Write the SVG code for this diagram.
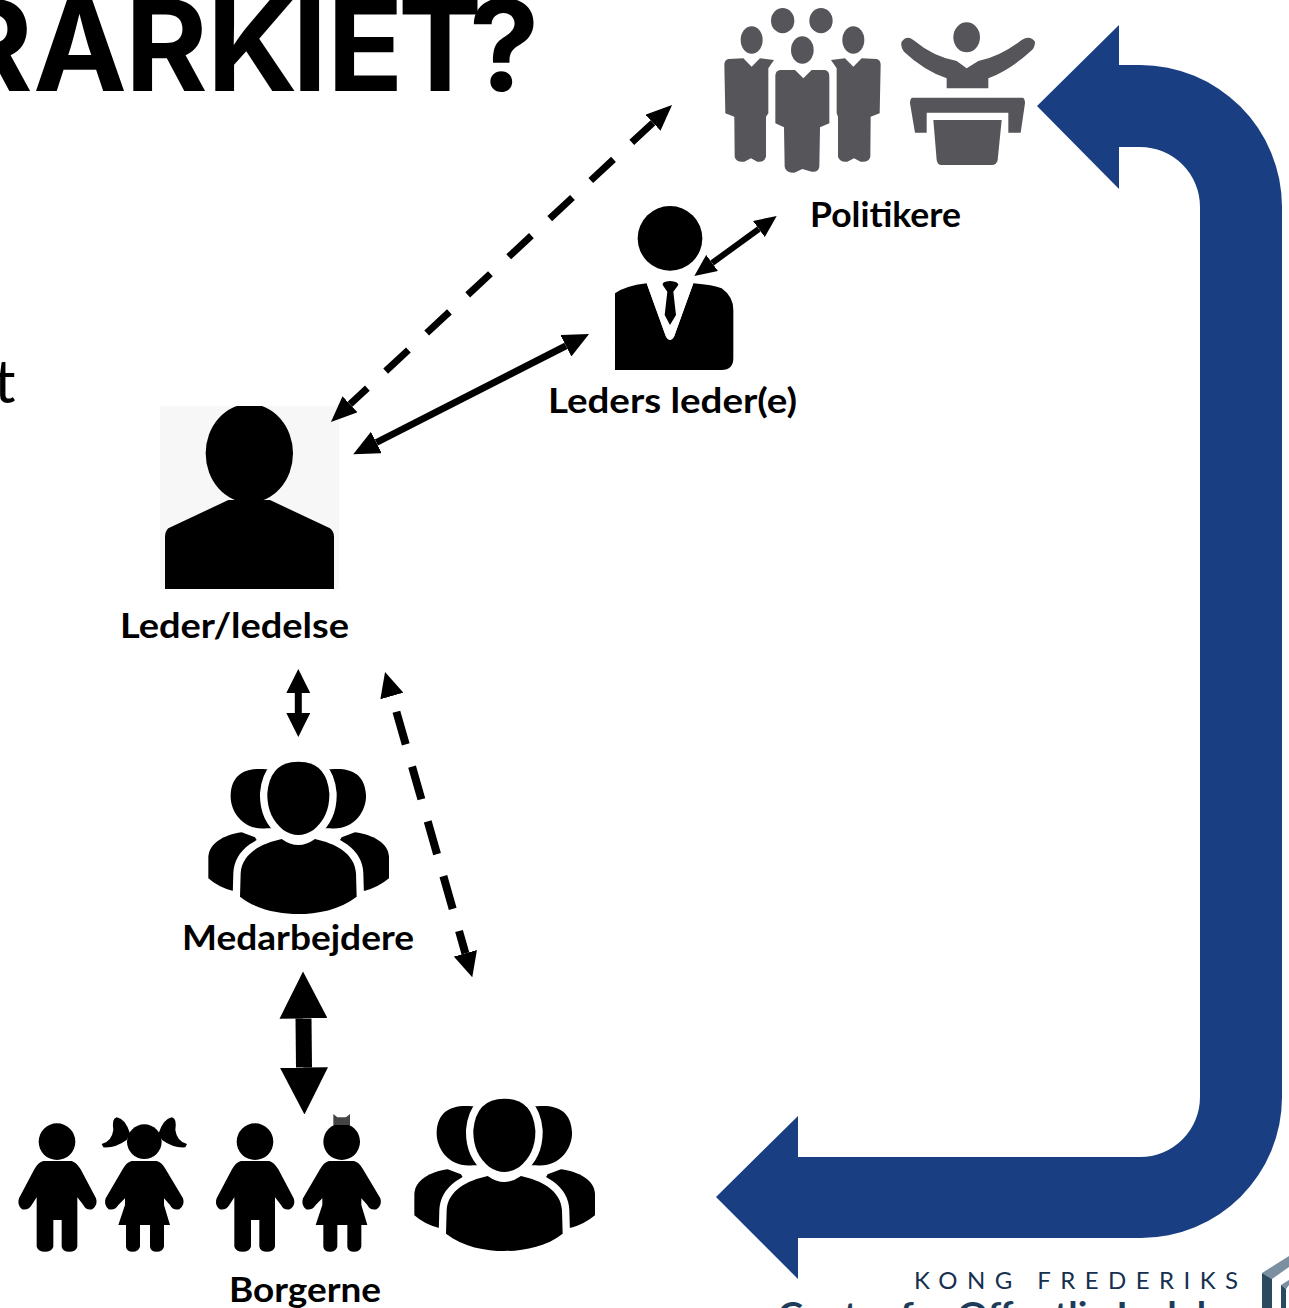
<svg xmlns="http://www.w3.org/2000/svg" xmlns:xlink="http://www.w3.org/1999/xlink" width="1289" height="1308" viewBox="0 0 1289 1308">
<style>
.lbl{font-family:"Lato","Liberation Sans",sans-serif;font-weight:700;font-size:35px;fill:#000}
.ttl{font-family:"Inter","Liberation Sans",sans-serif;font-weight:700;font-size:126px;fill:#000}
.blk{fill:#000}
.gry{fill:#55555a}
.cut{fill:#000;stroke:#fff;stroke-width:44;paint-order:stroke}
.arr{fill:none;stroke:#000}
</style>
<defs>
<marker id="h1" markerUnits="userSpaceOnUse" markerWidth="26" markerHeight="22" refX="0" refY="11" orient="auto-start-reverse"><path d="M0,0L26,11L0,22Z"/></marker>
<marker id="h2" markerUnits="userSpaceOnUse" markerWidth="26" markerHeight="24" refX="0" refY="12" orient="auto-start-reverse"><path d="M0,0L26,12L0,24Z"/></marker>
<marker id="h3" markerUnits="userSpaceOnUse" markerWidth="22" markerHeight="20" refX="0" refY="10" orient="auto-start-reverse"><path d="M0,0L22,10L0,20Z"/></marker>
<marker id="h4" markerUnits="userSpaceOnUse" markerWidth="24" markerHeight="24" refX="0" refY="12" orient="auto-start-reverse"><path d="M0,0L24,12L0,24Z"/></marker>
<marker id="h5" markerUnits="userSpaceOnUse" markerWidth="25" markerHeight="24" refX="0" refY="12" orient="auto-start-reverse"><path d="M0,0L25,12L0,24Z"/></marker>
<marker id="h6" markerUnits="userSpaceOnUse" markerWidth="47" markerHeight="48" refX="0" refY="24" orient="auto-start-reverse"><path d="M0,0L47,24L0,48Z"/></marker>
<g id="crowd">
<path class="blk" d="M228,88C170,82 125,100 122,165C120,215 160,272 230,265L260,265L260,88Z"/>
<path class="blk" d="M422,88C480,82 525,100 528,165C530,215 490,272 420,265L390,265L390,88Z"/>
<path class="blk" d="M55,415L55,350C58,310 100,285 155,277L195,292L200,300L200,452L127,452Q85,442 55,415Z"/>
<path class="blk" d="M597,415L597,350C594,310 552,285 495,277L455,292L450,300L450,452L525,452Q565,442 597,415Z"/>
<path class="cut" d="M150,470L152,400C155,340 215,310 275,297Q325,333 375,297C435,310 495,340 498,400L500,470C450,510 380,522 325,522C270,522 200,510 150,470Z"/>
<path class="cut" d="M325,65Q410,65 418,160Q420,230 370,270Q325,300 280,270Q230,230 232,160Q240,65 325,65Z"/>
</g>
<path id="boy" d="M130,213L215,213Q228,216 242,238L288,325Q295,345 277,358Q258,362 250,345L232,322L232,470Q228,485 208,485Q188,485 185,470L185,390L160,390L160,470Q155,485 135,485Q115,485 110,470L110,322L95,345Q85,362 66,358Q50,345 57,325L103,238Q115,216 130,213Z"/>
<path id="girl" d="M395,213L470,213Q485,216 497,238L549,325Q556,345 538,358Q518,362 510,345L492,325L492,345L510,405L492,405L492,470Q488,485 470,485Q452,485 450,470L450,405L420,405L420,470Q415,485 398,485Q380,485 378,470L378,405L355,405L375,345L375,325L355,345Q345,362 326,358Q310,345 317,325L368,238Q380,216 395,213Z"/>
</defs>

<g id="title"><text class="ttl" y="91" x="-50 33 125 207 292 327 398 469">RARKIET?</text></g>
<g id="body-fragment"><text x="-6" y="403" font-family="Lato,'Liberation Sans',sans-serif" font-weight="400" font-size="60" fill="#000">t</text></g>

<g id="politikere">
<g transform="translate(700,0) scale(.33333)" class="gry">
<ellipse cx="248" cy="62" rx="35" ry="38"/>
<ellipse cx="363" cy="62" rx="35" ry="38"/>
<ellipse cx="155" cy="120" rx="33" ry="41"/>
<ellipse cx="460" cy="120" rx="33" ry="41"/>
<ellipse cx="307" cy="150" rx="34" ry="41"/>
<path d="M85,177L130,175L155,200L180,175L222,180L205,205L205,340L198,350L198,470Q193,488 172,485L153,475L133,485Q108,488 104,470L103,350L76,340L73,195Q73,180 85,177Z"/>
<path d="M530,177L485,175L460,200L435,175L393,180L410,205L410,340L414,350L414,470Q420,488 442,485L462,475L482,485Q507,488 511,470L512,350L539,340L542,195Q542,180 530,177Z"/>
<path d="M240,210L285,210L310,235L335,210L375,210Q388,212 388,230L388,370L360,382L358,500Q355,518 335,515L307,507L283,518Q256,518 254,500L252,382L226,370L226,228Q226,212 240,210Z"/>
<ellipse cx="800" cy="112" rx="40" ry="45"/>
<path d="M605,125Q620,105 640,120Q700,170 770,183L800,205L835,183Q900,170 965,120Q990,105 1005,125Q1005,145 990,155Q930,210 865,235L865,265L740,265L740,235Q670,210 612,155Q600,140 605,125Z"/>
<path d="M637,293L968,293Q975,295 975,310L962,398L925,398L925,338L680,338L680,398L645,398L630,310Q630,295 637,293Z"/>
<path d="M700,360L905,360L893,480Q890,495 875,495L725,495Q712,495 710,480Z"/>
</g>
<text class="lbl" x="810" y="227" textLength="151" lengthAdjust="spacingAndGlyphs">Politikere</text>
</g>

<g id="leders-leder">
<g transform="translate(590,190) scale(.33333)" class="blk">
<circle cx="240" cy="145" r="97"/>
<path d="M75,310Q105,288 170,280L228,440Q240,460 252,440L310,280Q370,285 395,295Q430,320 430,360L430,505Q430,540 395,540L75,540Z"/>
<path fill="#fff" d="M170,280L228,440Q240,460 252,440L310,280Z"/>
<path d="M218,285Q215,275 240,273Q265,275 265,285L250,305L258,375L240,405L224,375L232,305Z"/>
</g>
<text class="lbl" x="548" y="413" textLength="249" lengthAdjust="spacingAndGlyphs">Leders leder(e)</text>
</g>

<g id="leder">
<rect x="160" y="406" width="179" height="183" fill="#f7f7f7"/>
<svg x="160" y="406" width="179" height="183" viewBox="60 48 537 549">
<g class="blk">
<ellipse cx="328" cy="190" rx="131" ry="148"/>
<path d="M265,330L85,415Q75,425 75,440L75,597L582,597L582,440Q582,425 570,415L390,330Z"/>
</g>
</svg>
<text class="lbl" x="120" y="638" textLength="229" lengthAdjust="spacingAndGlyphs">Leder/ledelse</text>
</g>

<g id="medarbejdere">
<use href="#crowd" xlink:href="#crowd" transform="translate(190,740) scale(.33333)"/>
<text class="lbl" x="182" y="950" textLength="232" lengthAdjust="spacingAndGlyphs">Medarbejdere</text>
</g>

<g id="borgerne">
<use href="#crowd" xlink:href="#crowd" transform="translate(396,1077) scale(.33333)"/>
<g transform="translate(0,1090) scale(.33333)" class="blk">
<circle cx="171" cy="155" r="55"/>
<use href="#boy" xlink:href="#boy"/>
<circle cx="433" cy="155" r="52"/>
<path d="M390,130Q375,85 350,82Q335,85 340,120Q335,155 305,162L310,172Q345,175 380,150Z"/>
<path d="M476,130Q491,85 516,82Q531,85 526,120Q531,155 561,162L556,172Q521,175 486,150Z"/>
<use href="#girl" xlink:href="#girl"/>
<circle cx="765" cy="155" r="55"/>
<use href="#boy" xlink:href="#boy" x="593"/>
<circle cx="1025" cy="155" r="55"/>
<path d="M1000,72L1012,82L1038,82L1050,72L1050,105L1000,105Z" fill="#444"/>
<use href="#girl" xlink:href="#girl" x="592"/>
</g>
<text class="lbl" x="229" y="1302" textLength="152" lengthAdjust="spacingAndGlyphs">Borgerne</text>
</g>

<g id="logo">
<text x="914" y="1289" font-family="Lato,'Liberation Sans',sans-serif" font-weight="400" font-size="24" fill="#16304f" textLength="324" lengthAdjust="spacing">KONG FREDERIKS</text>
<text x="778" y="1327" font-family="Lato,'Liberation Sans',sans-serif" font-weight="700" font-size="34" fill="#1d3c5a" textLength="465" lengthAdjust="spacingAndGlyphs">Center for Offentlig Ledelse</text>
<path d="M1262,1273L1289,1256L1289,1267L1272,1279Z" fill="#7a8fa0"/>
<path d="M1262,1273L1272,1279L1272,1308L1262,1308Z" fill="#2a4a60"/>
<path d="M1281,1285L1289,1280L1289,1285L1286,1289Z" fill="#7a8fa0"/>
<path d="M1281,1285L1286,1289L1286,1308L1281,1308Z" fill="#2a4a60"/>
</g>

<g id="connectors">
<path class="arr" stroke-width="7" stroke-dasharray="31 25" stroke-dashoffset="7.3" d="M350,404.3L653,122.7" marker-start="url(#h1)" marker-end="url(#h1)"/>
<path class="arr" stroke-width="7" d="M376.4,442.5L565.9,345.8" marker-start="url(#h2)" marker-end="url(#h2)"/>
<path class="arr" stroke-width="6" d="M712.1,263L758.9,229" marker-start="url(#h3)" marker-end="url(#h3)"/>
<path class="arr" stroke-width="7" d="M298.3,693L298.3,713" marker-start="url(#h4)" marker-end="url(#h4)"/>
<path class="arr" stroke-width="8" stroke-dasharray="34 23" stroke-dashoffset="40.6" d="M391.9,696L465.4,953.3" marker-start="url(#h5)" marker-end="url(#h5)"/>
<path class="arr" stroke-width="16" d="M303.5,1018.5L304,1067.5" marker-start="url(#h6)" marker-end="url(#h6)"/>
<path id="feedback" fill="#1a3e82" d="M1037,106L1119,25L1119,65L1140,65A142,142 0 0 1 1282,207L1282,1097A141,141 0 0 1 1141,1238L798,1238L798,1279L716,1197L798,1116L798,1157L1140,1157A60,60 0 0 0 1200,1097L1200,207A60,60 0 0 0 1140,147L1119,147L1119,189Z"/>
</g>
</svg>
